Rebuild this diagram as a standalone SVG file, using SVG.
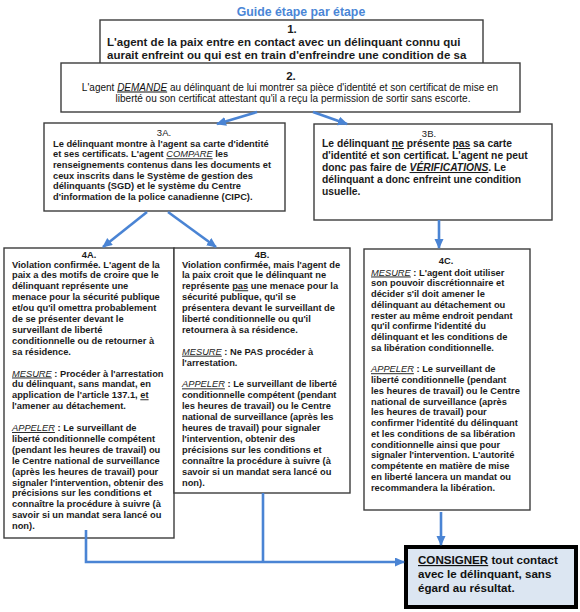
<svg xmlns="http://www.w3.org/2000/svg" width="580" height="612" viewBox="0 0 580 612">
<defs>
<style>
.box{fill:#fff;stroke:#3c3c3c;stroke-width:1.4}
.fin{fill:#dce6f2;stroke:#000;stroke-width:4}
.t{font-family:"Liberation Sans",Arial,sans-serif;font-weight:bold;font-size:9.3px;fill:#1b1b1b}
.b1{font-family:"Liberation Sans",Arial,sans-serif;font-weight:bold;font-size:11.5px;fill:#1b1b1b}
.b2{font-family:"Liberation Sans",Arial,sans-serif;font-size:10px;fill:#111}
.b3{font-family:"Liberation Sans",Arial,sans-serif;font-weight:bold;font-size:10.3px;fill:#1b1b1b}
.lab{font-family:"Liberation Sans",Arial,sans-serif;font-size:9.5px;fill:#1b1b1b;text-anchor:middle}
.f{font-family:"Liberation Sans",Arial,sans-serif;font-weight:bold;font-size:11.6px;fill:#111}
.i{font-style:italic;font-weight:normal;text-decoration:underline}
.ib{font-style:italic;text-decoration:underline}
.u{text-decoration:underline}
.c{fill:none;stroke:#4a84d4;stroke-width:2.6}
</style>
<marker id="ah" markerUnits="userSpaceOnUse" markerWidth="11" markerHeight="10" refX="9" refY="4.5" orient="auto">
<path d="M0,0 L10,4.5 L0,9 z" fill="#4a84d4"/>
</marker>
</defs>
<rect width="580" height="612" fill="#fff"/>
<text x="301" y="16" text-anchor="middle" font-family="Liberation Sans, Arial, sans-serif" font-weight="bold" font-size="12.3" fill="#4a86d6">Guide étape par étape</text>

<g id="node1">
<rect class="box" x="100" y="20" width="383" height="60"/>
<text class="b1" x="292" y="33" text-anchor="middle" font-size="10.5">1.</text>
<text class="b1" x="107" y="46">L'agent de la paix entre en contact avec un délinquant connu qui</text>
<text class="b1" x="107" y="58.5">aurait enfreint ou qui est en train d'enfreindre une condition de sa</text>
<text class="b1" x="107" y="71">liberté conditionnelle.</text>
</g>

<g id="node2">
<rect class="box" x="61" y="63" width="459" height="49"/>
<text class="b1" x="291" y="80" text-anchor="middle" font-size="11">2.</text>
<text class="b2" x="290" y="90.5" text-anchor="middle">L'agent <tspan class="i">DEMANDE</tspan> au délinquant de lui montrer sa pièce d'identité et son certificat de mise en</text>
<text class="b2" x="293" y="102" text-anchor="middle">liberté ou son certificat attestant qu'il a reçu la permission de sortir sans escorte.</text>
</g>

<g id="node3A">
<rect class="box" x="44" y="123" width="241" height="88"/>
<text class="lab" x="164" y="136">3A.</text>
<text class="t" x="53" y="146.6">Le délinquant montre à l'agent sa carte d'identité</text>
<text class="t" x="53" y="157.3">et ses certificats. L'agent <tspan class="i">COMPARE</tspan> les</text>
<text class="t" x="53" y="168">renseignements contenus dans les documents et</text>
<text class="t" x="53" y="178.7">ceux inscrits dans le Système de gestion des</text>
<text class="t" x="53" y="189.4">délinquants (SGD) et le système du Centre</text>
<text class="t" x="53" y="200.1">d'information de la police canadienne (CIPC).</text>
</g>

<g id="node3B">
<rect class="box" x="314" y="124" width="238" height="96"/>
<text class="lab" x="429" y="137">3B.</text>
<text class="b3" x="322" y="147">Le délinquant <tspan class="u">ne</tspan> présente <tspan class="u">pas</tspan> sa carte</text>
<text class="b3" x="322" y="159">d'identité et son certificat. L'agent ne peut</text>
<text class="b3" x="322" y="171">donc pas faire de <tspan class="ib">VÉRIFICATIONS</tspan>. Le</text>
<text class="b3" x="322" y="183">délinquant a donc enfreint une condition</text>
<text class="b3" x="322" y="195">usuelle.</text>
</g>

<g id="node4A">
<rect class="box" x="4" y="248" width="170" height="290"/>
<text class="t" x="89" y="257.5" text-anchor="middle">4A.</text>
<text class="t" x="12" y="267.5">Violation confirmée. L'agent de la</text>
<text class="t" x="12" y="278.4">paix a des motifs de croire que le</text>
<text class="t" x="12" y="289.3">délinquant représente une</text>
<text class="t" x="12" y="300.2">menace pour la sécurité publique</text>
<text class="t" x="12" y="311.1">et/ou qu'il omettra probablement</text>
<text class="t" x="12" y="322">de se présenter devant le</text>
<text class="t" x="12" y="332.9">surveillant de liberté</text>
<text class="t" x="12" y="343.8">conditionnelle ou de retourner à</text>
<text class="t" x="12" y="354.7">sa résidence.</text>
<text class="t" x="12" y="376.5"><tspan class="i">MESURE</tspan> : Procéder à l'arrestation</text>
<text class="t" x="12" y="387.4">du délinquant, sans mandat, en</text>
<text class="t" x="12" y="398.3">application de l'article 137.1, <tspan class="u">et</tspan></text>
<text class="t" x="12" y="409.2">l'amener au détachement.</text>
<text class="t" x="12" y="431"><tspan class="i">APPELER</tspan> : Le surveillant de</text>
<text class="t" x="12" y="441.9">liberté conditionnelle compétent</text>
<text class="t" x="12" y="452.8">(pendant les heures de travail) ou</text>
<text class="t" x="12" y="463.7">le Centre national de surveillance</text>
<text class="t" x="12" y="474.6">(après les heures de travail) pour</text>
<text class="t" x="12" y="485.5">signaler l'intervention, obtenir des</text>
<text class="t" x="12" y="496.4">précisions sur les conditions et</text>
<text class="t" x="12" y="507.3">connaître la procédure à suivre (à</text>
<text class="t" x="12" y="518.2">savoir si un mandat sera lancé ou</text>
<text class="t" x="12" y="529.1">non).</text>
</g>

<g id="node4B">
<rect class="box" x="174" y="248" width="176" height="245"/>
<text class="t" x="262" y="257.5" text-anchor="middle">4B.</text>
<text class="t" x="182" y="267.5">Violation confirmée, mais l'agent de</text>
<text class="t" x="182" y="278.4">la paix croit que le délinquant ne</text>
<text class="t" x="182" y="289.3">représente <tspan class="u">pas</tspan> une menace pour la</text>
<text class="t" x="182" y="300.2">sécurité publique, qu'il se</text>
<text class="t" x="182" y="311.1">présentera devant le surveillant de</text>
<text class="t" x="182" y="322">liberté conditionnelle ou qu'il</text>
<text class="t" x="182" y="332.9">retournera à sa résidence.</text>
<text class="t" x="182" y="354.7"><tspan class="i">MESURE</tspan> : Ne PAS procéder à</text>
<text class="t" x="182" y="365.6">l'arrestation.</text>
<text class="t" x="182" y="387.4"><tspan class="i">APPELER</tspan> : Le surveillant de liberté</text>
<text class="t" x="182" y="398.3">conditionnelle compétent (pendant</text>
<text class="t" x="182" y="409.2">les heures de travail) ou le Centre</text>
<text class="t" x="182" y="420.1">national de surveillance (après les</text>
<text class="t" x="182" y="431">heures de travail) pour signaler</text>
<text class="t" x="182" y="441.9">l'intervention, obtenir des</text>
<text class="t" x="182" y="452.8">précisions sur les conditions et</text>
<text class="t" x="182" y="463.7">connaître la procédure à suivre (à</text>
<text class="t" x="182" y="474.6">savoir si un mandat sera lancé ou</text>
<text class="t" x="182" y="485.5">non).</text>
</g>

<g id="node4C">
<rect class="box" x="364" y="249" width="166" height="261"/>
<text class="t" x="446" y="263.5" text-anchor="middle" font-size="12">4C.</text>
<text class="t" x="371" y="275.5"><tspan class="i">MESURE</tspan> : L'agent doit utiliser</text>
<text class="t" x="371" y="286.25">son pouvoir discrétionnaire et</text>
<text class="t" x="371" y="297">décider s'il doit amener le</text>
<text class="t" x="371" y="307.75">délinquant au détachement ou</text>
<text class="t" x="371" y="318.5">rester au même endroit pendant</text>
<text class="t" x="371" y="329.25">qu'il confirme l'identité du</text>
<text class="t" x="371" y="340">délinquant et les conditions de</text>
<text class="t" x="371" y="350.75">sa libération conditionnelle.</text>
<text class="t" x="371" y="372.25"><tspan class="i">APPELER</tspan> : Le surveillant de</text>
<text class="t" x="371" y="383">liberté conditionnelle (pendant</text>
<text class="t" x="371" y="393.75">les heures de travail) ou le Centre</text>
<text class="t" x="371" y="404.5">national de surveillance (après</text>
<text class="t" x="371" y="415.25">les heures de travail) pour</text>
<text class="t" x="371" y="426">confirmer l'identité du délinquant</text>
<text class="t" x="371" y="436.75">et les conditions de sa libération</text>
<text class="t" x="371" y="447.5">conditionnelle ainsi que pour</text>
<text class="t" x="371" y="458.25">signaler l'intervention. L'autorité</text>
<text class="t" x="371" y="469">compétente en matière de mise</text>
<text class="t" x="371" y="479.75">en liberté lancera un mandat ou</text>
<text class="t" x="371" y="490.5">recommandera la libération.</text>
</g>

<g id="nodeFinal">
<rect class="fin" x="406" y="547" width="170" height="60"/>
<text class="f" x="418" y="564"><tspan class="u">CONSIGNER</tspan> tout contact</text>
<text class="f" x="418" y="578">avec le délinquant, sans</text>
<text class="f" x="418" y="592">égard au résultat.</text>
</g>

<g id="connectors">
<path class="c" d="M257,112 L217,124" marker-end="url(#ah)"/>
<path class="c" d="M313,112 L347,124" marker-end="url(#ah)"/>
<path class="c" d="M147,212 L103,247" marker-end="url(#ah)"/>
<path class="c" d="M168,212 L216,247" marker-end="url(#ah)"/>
<path class="c" d="M439,220 L439,248" marker-end="url(#ah)"/>
<path class="c" d="M86,530 V562 H404" marker-end="url(#ah)"/>
<path class="c" d="M263,493 V562"/>
<path class="c" d="M441,512 V545" marker-end="url(#ah)"/>
</g>
</svg>
